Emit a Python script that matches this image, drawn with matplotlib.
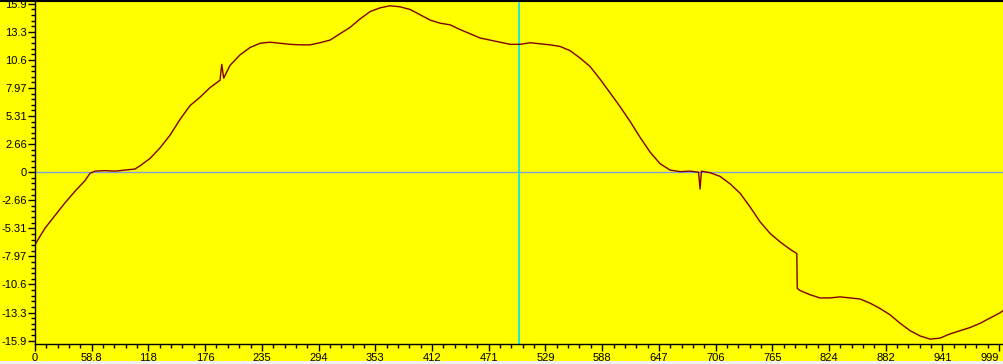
import numpy as np
import matplotlib
matplotlib.use("Agg")
import matplotlib.pyplot as plt
from matplotlib.ticker import FixedLocator, AutoMinorLocator
from matplotlib.lines import Line2D
from matplotlib.patches import Rectangle

# values (x in samples, y in signal units)
x_vals = [0, 3, 10.4, 20.7, 31.1, 41.5, 51.8, 57, 62.2, 72.5, 82.9, 93.3, 103.6,
          108.8, 119.2, 129.5, 139.9, 150.3, 160.6, 171, 181.3, 191.7, 193.5, 195.5,
          202, 212.4, 222.8, 233.2, 243.5, 253.9, 264.2, 274.6, 285, 295.3, 305.7,
          316, 326.4, 336.8, 347.2, 357.5, 367.9, 378.2, 388.6, 399, 409.3, 419.7,
          430, 440.4, 450.8, 461.1, 471.5, 481.9, 492.2, 502.6, 513, 523.3, 533.7,
          544, 554.4, 564.8, 575.1, 585.5, 595.9, 606.2, 616.6, 626.9, 637.3, 647.7,
          658, 668.4, 678.8, 687.5, 689.1, 690.5, 699.5, 709.8, 720.2, 730.6, 741,
          751.3, 761.7, 772, 782.4, 789.3, 789.8, 792.7, 803.1, 813.5, 823.8, 834.2,
          844.5, 854.9, 865.3, 875.6, 886, 896.4, 906.7, 917.1, 927.5, 937.8, 948.2,
          958.5, 968.9, 979.3, 989.6, 1000, 1003]
y_vals = [-6.9, -6.4, -5.3, -4.1, -2.9, -1.8, -0.8, -0.1, 0.1, 0.15, 0.1, 0.2, 0.3,
          0.6, 1.3, 2.3, 3.5, 5.0, 6.3, 7.1, 8.0, 8.7, 10.2, 8.9,
          10.1, 11.1, 11.8, 12.2, 12.3, 12.2, 12.1, 12.05, 12.05, 12.25, 12.5,
          13.1, 13.7, 14.5, 15.2, 15.55, 15.75, 15.65, 15.4, 14.9, 14.4, 14.1,
          13.95, 13.5, 13.1, 12.7, 12.5, 12.3, 12.1, 12.1, 12.25, 12.15, 12.05,
          11.9, 11.5, 10.8, 10.0, 8.8, 7.5, 6.2, 4.8, 3.3, 1.9, 0.8,
          0.2, 0.05, 0.1, 0.0, -1.6, 0.1, -0.05, -0.4, -1.1, -2.0, -3.3,
          -4.7, -5.8, -6.6, -7.3, -7.7, -11.0, -11.2, -11.6, -11.9, -11.9, -11.8,
          -11.9, -12.0, -12.4, -12.9, -13.5, -14.3, -15.0, -15.5, -15.8, -15.7, -15.3,
          -15.0, -14.7, -14.3, -13.8, -13.3, -13.1]

cursor_x = 501
xtick_labels = ['0', '58.8', '118', '176', '235', '294', '353', '412', '471',
                '529', '588', '647', '706', '765', '824', '882', '941', '999']
ytick_labels = ['-15.9', '-13.3', '-10.6', '-7.97', '-5.31', '-2.66', '0',
                '2.66', '5.31', '7.97', '10.6', '13.3', '15.9']

W, H = 1004, 364
fig = plt.figure(figsize=(W / 100, H / 100), dpi=100)
fig.patch.set_facecolor('#ffff00')
ax = fig.add_axes([35 / W, 20 / H, (W - 35) / W, 343 / H])
ax.set_facecolor('#ffff00')

ax.axhline(0, color='#7f9fdf', lw=1, zorder=1)
ax.axvline(cursor_x, color='#00e0ff', lw=1.2, zorder=1)
ax.plot(x_vals, y_vals, color='#800000', lw=1, zorder=2)

xt = np.arange(len(xtick_labels)) * 999 / 17
yt = (np.arange(len(ytick_labels)) - 6) * 15.94 / 6
ax.xaxis.set_major_locator(FixedLocator(xt))
ax.set_xticklabels(xtick_labels)
ax.yaxis.set_major_locator(FixedLocator(yt))
ax.set_yticklabels(ytick_labels)
ax.xaxis.set_minor_locator(AutoMinorLocator(5))
ax.yaxis.set_minor_locator(AutoMinorLocator(5))
ax.set_xlim(0, 1004)
ax.set_ylim(-16.26, 16.2)

for s in ['top', 'right']:
    ax.spines[s].set_visible(False)
for s in ['left', 'bottom']:
    ax.spines[s].set_color('black')
    ax.spines[s].set_linewidth(1)

ax.tick_params(which='major', length=5, width=1, labelsize=8, labelcolor='black')
ax.tick_params(axis='x', which='major', pad=1.5)
ax.tick_params(axis='y', which='major', pad=0.8)
ax.tick_params(which='minor', length=3, width=1)
for lab in ax.get_xticklabels() + ax.get_yticklabels():
    lab.set_fontfamily('Liberation Sans')
ax.get_xticklabels()[-1].set_horizontalalignment('right')
ax.get_xticklabels()[-1].set_x(xt[-1] + 3)

# black border along the top and gray strip at the bottom
fig.add_artist(Line2D([0, 1], [1 - 0.5 / H, 1 - 0.5 / H], transform=fig.transFigure,
                      color='black', lw=1.5))
fig.add_artist(Rectangle((0, 0), 1, 3 / H, transform=fig.transFigure,
                         facecolor='#f0f0f0', edgecolor='none'))

fig.savefig('out.png', dpi=100, facecolor=fig.get_facecolor())
